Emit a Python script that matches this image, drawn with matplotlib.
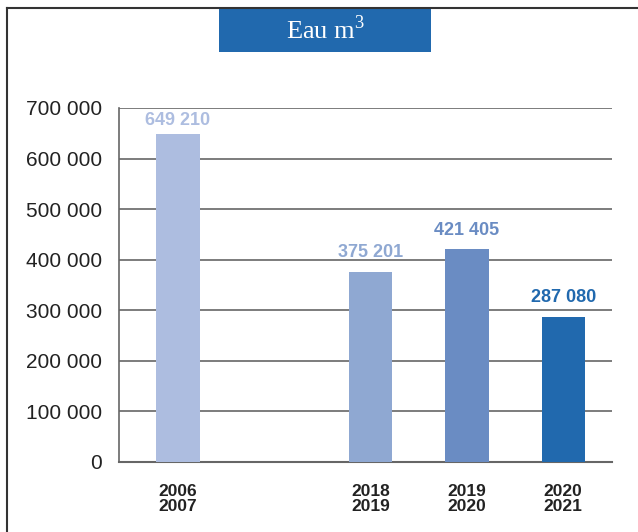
import matplotlib
matplotlib.use("Agg")
import matplotlib.pyplot as plt
from matplotlib.patches import Rectangle

# Data
periods = ["2006\n2007", "2018\n2019", "2019\n2020", "2020\n2021"]
positions = [0, 2, 3, 4]
volumes = [649210, 375201, 421405, 287080]
value_labels = ["649 210", "375 201", "421 405", "287 080"]
bar_colors = ["#adbde0", "#8fa8d2", "#6a8cc3", "#2169ae"]
yticks = [0, 100000, 200000, 300000, 400000, 500000, 600000, 700000]
ytick_labels = ["0", "100 000", "200 000", "300 000", "400 000", "500 000", "600 000", "700 000"]
title = r"Eau m$^{\mathregular{3}}$"

# Vertical gap (points) between each bar top and its value label,
# chosen so the labels sit clear of the gridlines
label_gaps = [6.2, 10.8, 10.0, 10.8]

sans = "Liberation Sans"
serif = "Liberation Serif"

W, H = 638, 532
fig = plt.figure(figsize=(W / 100, H / 100), dpi=100)

# Axes placed in pixel terms
left, right, top, bottom = 119, 612, 108, 461.7
ax = fig.add_axes([left / W, 1 - bottom / H, (right - left) / W, (bottom - top) / H])

ax.bar(positions, volumes, width=0.45, color=bar_colors, zorder=3)
for x, v, lab, c, g in zip(positions, volumes, value_labels, bar_colors, label_gaps):
    ax.annotate(lab, (x, v), xytext=(0, g), textcoords="offset points",
                ha="center", va="baseline", color=c, fontsize=13,
                fontweight="bold", family=sans, zorder=4)

ax.set_xlim(-0.613, 4.507)
ax.set_ylim(0, 700000)
ax.set_yticks(yticks)
ax.set_yticklabels(ytick_labels, family=sans, fontsize=15, color="#222222")
ax.set_xticks(positions)
ax.set_xticklabels(periods, family=sans, fontsize=12.5, fontweight="bold",
                   color="#222222", linespacing=1.0)
ax.tick_params(axis="y", length=0, pad=12)
ax.tick_params(axis="x", length=0, pad=16)

ax.yaxis.grid(True, color="#666666", linewidth=1.2, zorder=1)
ax.set_axisbelow(True)
for s in ["right", "top"]:
    ax.spines[s].set_visible(False)
ax.spines["left"].set_color("#666666")
ax.spines["left"].set_linewidth(1.2)
ax.spines["bottom"].set_color("#666666")
ax.spines["bottom"].set_linewidth(1.5)

# Outer frame: left and top border lines
fig.add_artist(plt.Line2D([7 / W, 7 / W], [0, 1 - 8 / H], color="#333333", linewidth=1.5))
fig.add_artist(plt.Line2D([7 / W, 1], [1 - 8 / H, 1 - 8 / H], color="#333333", linewidth=1.5))

# Title banner
bx0, bx1, by0, by1 = 219, 431, 8, 52
fig.add_artist(Rectangle((bx0 / W, 1 - by1 / H), (bx1 - bx0) / W, (by1 - by0) / H,
                         transform=fig.transFigure, facecolor="#2169ae", edgecolor="none"))
fig.text((bx0 + bx1) / 2 / W, 1 - (by0 + by1) / 2 / H, title, color="white",
         fontsize=19, family=serif, ha="center", va="center")

fig.savefig("out.png", dpi=100)
